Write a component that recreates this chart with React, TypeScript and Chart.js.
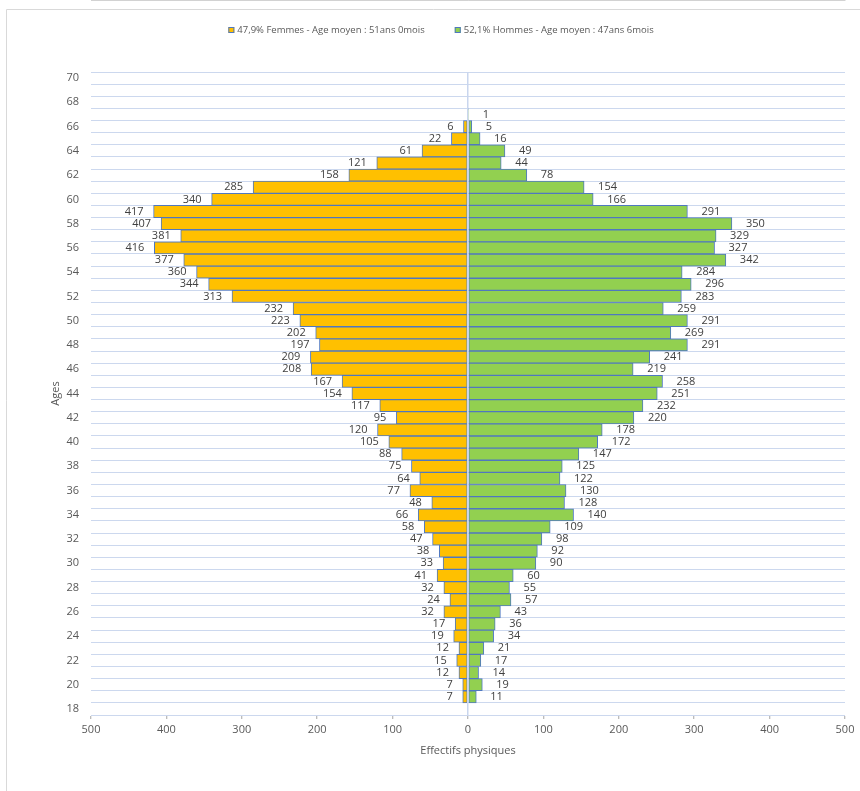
import React, { useEffect, useRef } from 'react';
import { Chart, registerables } from 'chart.js';

Chart.register(...registerables);

const ages = ['70', '69', '68', '67', '66', '65', '64', '63', '62', '61', '60', '59', '58', '57', '56', '55', '54', '53', '52', '51', '50', '49', '48', '47', '46', '45', '44', '43', '42', '41', '40', '39', '38', '37', '36', '35', '34', '33', '32', '31', '30', '29', '28', '27', '26', '25', '24', '23', '22', '21', '20', '19', '18'];

const femmes: (number | null)[] = [null, null, null, null, 6, 22, 61, 121, 158, 285, 340, 417, 407, 381, 416, 377, 360, 344, 313, 232, 223, 202, 197, 209, 208, 167, 154, 117, 95, 120, 105, 88, 75, 64, 77, 48, 66, 58, 47, 38, 33, 41, 32, 24, 32, 17, 19, 12, 15, 12, 7, 7, null];

const hommes: (number | null)[] = [null, null, null, 1, 5, 16, 49, 44, 78, 154, 166, 291, 350, 329, 327, 342, 284, 296, 283, 259, 291, 269, 291, 241, 219, 258, 251, 232, 220, 178, 172, 147, 125, 122, 130, 128, 140, 109, 98, 92, 90, 60, 55, 57, 43, 36, 34, 21, 17, 14, 19, 11, null];

const seriesNames = ['47,9% Femmes - Age moyen : 51ans 0mois', '52,1% Hommes - Age moyen : 47ans 6mois'];
const xTitle = 'Effectifs physiques';
const yTitle = 'Ages';
const xMin = -500;
const xMax = 500;
const xStep = 100;

const FONT = "'Open Sans', 'Noto Sans', sans-serif";
const ORANGE = '#FFC000';
const GREEN = '#92D050';
const BORDER = '#4F78C0';

const valueLabels = {
  id: 'valueLabels',
  afterDatasetsDraw(chart: any) {
    const ctx = chart.ctx;
    ctx.save();
    ctx.font = `11px ${FONT}`;
    ctx.fillStyle = '#404040';
    ctx.textBaseline = 'middle';
    chart.data.datasets.forEach((_ds: any, di: number) => {
      const meta = chart.getDatasetMeta(di);
      const src = di === 0 ? femmes : hommes;
      meta.data.forEach((el: any, i: number) => {
        const raw = src[i];
        if (raw == null) return;
        const { x, y } = el.getProps(['x', 'y'], true);
        if (di === 0) {
          ctx.textAlign = 'right';
          ctx.fillText(String(raw), x - 10, y);
        } else {
          ctx.textAlign = 'left';
          ctx.fillText(String(raw), x + 14, y);
        }
      });
    });
    ctx.restore();
  },
};

const frameAndLegend = {
  id: 'frameAndLegend',
  afterDraw(chart: any) {
    const ctx = chart.ctx;
    ctx.save();
    // frame
    ctx.strokeStyle = '#D9D9D9';
    ctx.lineWidth = 1;
    ctx.beginPath();
    ctx.moveTo(6.5, 800);
    ctx.lineTo(6.5, 9.5);
    ctx.lineTo(870, 9.5);
    ctx.stroke();
    // legend
    ctx.font = `9.5px ${FONT}`;
    ctx.textBaseline = 'middle';
    ctx.textAlign = 'left';
    const colors = [ORANGE, GREEN];
    const box = 6;
    const gapBoxText = 3;
    const gapItems = 30;
    const widths = seriesNames.map((t) => ctx.measureText(t).width);
    const total = widths.reduce((a: number, w: number) => a + box + gapBoxText + w, 0) + gapItems;
    let x = 441 - total / 2;
    const yc = 30;
    seriesNames.forEach((t, i) => {
      ctx.fillStyle = colors[i];
      ctx.fillRect(x, yc - box / 2, box, box);
      ctx.strokeStyle = BORDER;
      ctx.strokeRect(x + 0.5, yc - box / 2 + 0.5, box - 1, box - 1);
      ctx.fillStyle = '#595959';
      ctx.fillText(t, x + box + gapBoxText, yc);
      x += box + gapBoxText + widths[i] + gapItems;
    });
    ctx.restore();
  },
};

export default function App() {
  const ref = useRef<HTMLCanvasElement | null>(null);

  useEffect(() => {
    if (!ref.current) return;
    Chart.defaults.font.family = FONT;
    Chart.defaults.font.size = 11;
    Chart.defaults.color = '#595959';
    const chart = new Chart(ref.current, {
      type: 'bar',
      data: {
        labels: ages,
        datasets: [
          {
            label: seriesNames[0],
            data: femmes.map((v) => (v == null ? null : -v)),
            backgroundColor: ORANGE,
            borderColor: BORDER,
            borderWidth: 1,
            borderSkipped: false,
            grouped: false,
            categoryPercentage: 1,
            barPercentage: 1,
          },
          {
            label: seriesNames[1],
            data: hommes,
            backgroundColor: GREEN,
            borderColor: BORDER,
            borderWidth: 1,
            borderSkipped: false,
            grouped: false,
            categoryPercentage: 1,
            barPercentage: 1,
          },
        ],
      },
      options: {
        indexAxis: 'y',
        responsive: false,
        animation: false,
        events: [],
        layout: { padding: { top: 72, left: 46, right: 15, bottom: 34 } },
        plugins: {
          legend: { display: false },
          tooltip: { enabled: false },
          title: { display: false },
        },
        scales: {
          x: {
            type: 'linear',
            min: xMin,
            max: xMax,
            afterFit: (scale: any) => {
              scale.height = 42;
            },
            ticks: {
              stepSize: xStep,
              padding: 4,
              color: '#595959',
              font: { size: 11 },
              callback: (v: any) => String(Math.abs(Number(v))),
            },
            grid: {
              z: 1,
              color: (c: any) => (c.tick && c.tick.value === 0 ? '#C9D6EE' : 'rgba(0,0,0,0)'),
              lineWidth: 1.5,
              tickColor: '#A6A6A6',
              tickLength: 4,
              tickWidth: 1,
            },
            border: { display: true, color: '#A6A6A6', width: 1 },
            title: {
              display: true,
              text: xTitle,
              color: '#595959',
              font: { size: 11 },
              padding: { top: 4, bottom: 0 },
            },
          },
          y: {
            type: 'category',
            offset: true,
            afterFit: (scale: any) => {
              scale.width = 45;
            },
            ticks: {
              autoSkip: false,
              padding: 12,
              color: '#595959',
              font: { size: 11 },
              callback: (_v: any, i: number) => (Number(ages[i]) % 2 === 0 ? ages[i] : ''),
            },
            grid: {
              offset: true,
              drawTicks: false,
              color: '#CCD8EE',
              lineWidth: 1,
            },
            border: { display: false },
            title: {
              display: true,
              text: yTitle,
              color: '#595959',
              font: { size: 11 },
              padding: { top: 3, bottom: 0 },
            },
          },
        },
      },
      plugins: [valueLabels, frameAndLegend],
    } as any);
    return () => chart.destroy();
  }, []);

  return (
    <div style={{ position: 'fixed', left: 0, top: 0, width: 860, height: 791, background: '#fff' }}>
      <canvas ref={ref} width={860} height={791} style={{ display: 'block' }} />
    </div>
  );
}
